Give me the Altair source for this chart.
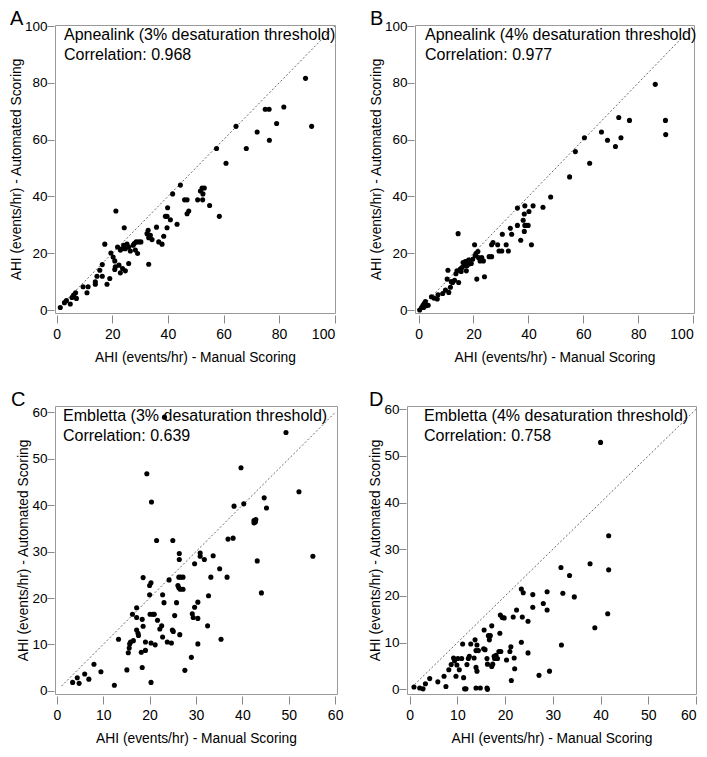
import altair as alt
import pandas as pd

# (manual AHI, automated AHI) pairs
apnea3 = [(1.3,0.9),(2.8,2.6),(3.5,3.3),(4.9,2.1),(5.5,4.4),(6.1,5.3),(6.8,6.1),(7.1,4.1),(9.5,8.2),(10.9,6.1),
          (11.3,8.2),(13.9,9.9),(13.9,9.1),(14.5,11.9),(15.5,14.0),(16.4,11.9),(16.4,16.0),(18.1,9.1),(19.1,11.1),(17.3,23.2),
          (19.5,20.1),(20.3,18.7),(20.9,17.3),(21.1,15.2),(20.9,14.3),(22.4,15.8),(22.9,13.1),(23.7,14.6),(24.7,13.8),(25.9,16.4),
          (21.3,34.9),(21.9,22.2),(22.9,21.1),(23.5,21.6),(24.1,22.8),(24.7,21.6),(24.3,29.0),(25.3,23.2),(25.9,22.2),(26.5,20.8),
          (27.5,22.8),(27.9,23.4),(28.6,24.0),(29.5,24.0),(28.3,21.1),(29.1,19.9),(30.3,24.0),(32.5,26.9),(33.1,25.5),(32.9,28.1),
          (33.7,26.3),(34.3,24.8),(33.1,16.1),(35.9,29.2),(36.7,24.0),(37.9,23.2),(38.5,26.0),(39.1,33.0),(39.7,33.0),(39.9,36.0),
          (40.9,31.8),(39.7,29.0),(41.7,40.9),(43.3,30.2),(44.5,44.0),(46.0,38.8),(46.9,38.8),(46.9,33.9),(47.5,34.9),(50.7,38.8),
          (52.5,38.8),(51.7,41.9),(52.3,43.0),(53.1,43.0),(52.6,40.9),(55.0,36.8),(58.5,33.0),(57.5,56.9),(60.9,51.7),(64.5,64.7),
          (68.2,56.9),(72.1,62.7),(75.0,70.7),(76.4,70.7),(76.5,59.8),(79.1,65.7),(81.7,71.5),(89.5,81.6),(91.7,64.7)]

apnea4 = [(0.4,0.0),(1.1,0.9),(1.6,1.7),(2.1,2.4),(2.5,3.0),(1.8,0.9),(2.8,1.5),(3.5,1.7),(4.7,4.7),(5.6,4.2),
          (6.8,3.9),(7.1,5.4),(8.8,5.8),(9.8,7.0),(10.4,10.9),(10.7,14.0),(11.0,6.2),(11.6,8.0),(11.9,10.0),(12.4,9.7),
          (13.1,10.5),(13.6,12.8),(14.0,13.8),(14.6,9.7),(14.4,26.9),(15.2,14.4),(15.5,13.6),(15.8,15.0),(16.2,16.7),(16.8,15.6),
          (17.0,17.1),(17.4,13.8),(17.6,15.6),(18.2,17.6),(18.4,16.2),(19.2,16.4),(19.7,17.9),(20.4,23.0),(20.6,19.1),(20.9,19.9),
          (21.2,10.9),(21.6,20.6),(21.8,18.5),(22.4,17.3),(23.0,18.5),(23.6,17.3),(24.0,11.7),(25.7,18.8),(26.6,18.8),(26.6,23.0),
          (27.1,23.8),(28.8,23.0),(29.3,20.8),(30.3,20.8),(30.5,26.7),(31.9,23.0),(32.7,20.8),(33.4,28.8),(33.9,26.7),(36.0,35.9),
          (36.0,29.8),(37.2,24.6),(38.1,31.6),(38.5,33.8),(38.7,36.7),(38.7,29.8),(39.3,29.8),(39.9,29.8),(40.2,34.7),(38.5,27.7),
          (41.1,23.0),(41.7,36.7),(45.3,36.2),(48.1,39.8),(55.0,46.9),(57.1,55.8),(60.4,60.7),(62.3,51.7),(66.6,62.7),(68.8,59.8),
          (71.7,57.6),(72.9,67.8),(73.7,60.7),(76.8,66.8),(86.2,79.5),(89.9,66.8),(90.0,61.8)]

embl3 = [(3.4,1.8),(4.4,2.8),(4.8,1.6),(6.0,3.6),(6.9,2.5),(8.0,5.7),(9.5,4.1),(12.4,1.2),(13.3,11.1),(15.1,4.5),
         (15.4,8.2),(15.6,9.2),(15.7,10.1),(15.9,10.5),(16.3,16.5),(16.5,10.8),(17.2,17.9),(17.2,15.8),(17.2,13.1),(17.5,12.4),
         (17.6,11.9),(18.2,8.3),(18.4,15.4),(18.4,5.0),(18.6,13.9),(18.6,24.4),(19.1,10.5),(19.1,8.7),(20.0,20.7),(20.0,22.7),
         (20.3,23.3),(20.1,16.5),(20.3,10.3),(20.3,1.8),(20.7,16.5),(21.0,16.5),(21.2,9.9),(21.5,32.4),(21.7,15.2),(22.2,13.3),
         (22.6,14.0),(22.8,11.6),(22.8,20.7),(23.1,19.0),(23.8,10.5),(24.2,23.9),(24.7,10.3),(24.9,13.1),(25.0,32.4),(25.1,12.8),
         (25.4,16.2),(25.8,19.0),(26.1,22.7),(26.3,24.5),(26.3,22.2),(26.4,29.6),(26.4,28.3),(26.5,12.1),(26.6,21.9),(26.7,24.5),
         (27.2,24.5),(27.2,21.9),(27.6,4.4),(29.0,7.2),(29.2,16.6),(29.4,15.8),(29.7,18.0),(29.7,27.4),(30.4,19.1),(30.4,15.6),
         (30.4,10.1),(30.9,29.7),(30.9,29.0),(31.8,28.3),(32.5,14.0),(32.7,20.5),(33.2,24.5),(33.7,29.1),(35.1,26.3),(35.4,11.1),
         (36.7,24.5),(36.9,32.7),(38.0,32.9),(19.4,46.8),(20.4,40.7),(23.2,59.0),(39.7,48.1),(38.2,39.8),(40.3,40.3),(42.5,36.7),
         (42.8,36.4),(42.5,36.2),(42.9,36.9),(44.7,41.6),(45.2,39.4),(43.2,28.0),(44.1,21.1),(49.4,55.7),(52.2,42.9),(55.2,29.0)]

embl4 = [(0.9,0.5),(2.1,0.3),(2.8,0.1),(3.3,1.2),(4.2,2.3),(5.9,1.6),(7.2,2.8),(7.6,0.6),(8.2,4.2),(8.7,5.3),
         (9.2,6.7),(9.4,6.1),(9.7,2.8),(9.9,5.2),(10.1,6.6),(10.4,4.2),(10.9,6.6),(11.1,9.7),(11.3,2.5),(11.5,0.1),
         (11.8,0.1),(12.0,5.3),(12.3,6.6),(12.5,7.1),(12.8,9.7),(13.5,6.7),(13.7,10.6),(13.9,8.3),(13.9,4.7),(14.1,3.9),
         (13.9,0.3),(14.1,9.5),(14.4,8.3),(14.8,0.3),(15.5,8.7),(15.8,8.5),(15.6,12.7),(16.2,0.3),(16.3,0.0),(16.2,6.6),
         (16.3,5.4),(16.5,11.5),(16.9,11.5),(16.7,10.6),(17.2,13.6),(17.2,4.9),(17.4,5.4),(17.7,7.1),(17.8,6.6),(18.1,7.3),
         (18.4,6.6),(18.7,8.1),(18.9,12.0),(19.1,8.1),(19.0,15.9),(19.4,15.4),(19.8,15.3),(20.3,6.3),(21.0,8.1),(21.2,9.1),
         (21.3,1.9),(21.7,15.5),(21.9,6.7),(22.0,4.4),(22.4,17.0),(23.4,10.1),(23.4,21.5),(23.8,20.7),(23.6,15.5),(24.8,7.8),
         (24.8,14.6),(25.8,20.3),(25.8,17.6),(27.1,3.0),(28.0,18.4),(28.8,20.9),(28.8,17.0),(29.3,3.9),(31.7,26.1),(31.8,9.5),
         (32.1,20.6),(33.5,24.4),(34.5,19.8),(40.0,52.9),(41.7,32.9),(37.8,26.9),(41.7,25.6),(41.5,16.2),(38.8,13.2)]

letters = ["A", "B", "C", "D"]
headings = ["Apnealink (3% desaturation threshold)", "Apnealink (4% desaturation threshold)",
            "Embletta (3% desaturation threshold)", "Embletta (4% desaturation threshold)"]
correlations = ["Correlation: 0.968", "Correlation: 0.977", "Correlation: 0.639", "Correlation: 0.758"]
ticks_ab = [0, 20, 40, 60, 80, 100]
ticks_cd = [0, 10, 20, 30, 40, 50, 60]
diag_ab = [1, 100]
diag_cd = [1, 60]

FONT = "Liberation Sans"


def panel(points, diag, ticks, letter, heading, corr, w, h, xdom, ydom, text_dx, letter_dx):
    df = pd.DataFrame(points, columns=["manual", "auto"])
    dd = pd.DataFrame({"manual": diag, "auto": diag})
    xs = alt.Scale(domain=xdom, nice=False, zero=False)
    ys = alt.Scale(domain=ydom, nice=False, zero=False)
    xax = alt.Axis(values=ticks, title="AHI (events/hr) - Manual Scoring", offset=2, tickSize=8,
                   labelPadding=4, titlePadding=9, labelFontSize=14)
    yax = alt.Axis(values=ticks, title="AHI (events/hr) - Automated Scoring", offset=1, tickSize=7,
                   labelPadding=0, titlePadding=1, labelFontSize=13.5)
    line = alt.Chart(dd).mark_line(strokeDash=[2, 2], color="#444", strokeWidth=0.8).encode(
        x=alt.X("manual:Q", scale=xs, axis=xax), y=alt.Y("auto:Q", scale=ys, axis=yax))
    pts = alt.Chart(df).mark_circle(size=26, color="black", opacity=1).encode(
        x=alt.X("manual:Q", scale=xs, axis=xax), y=alt.Y("auto:Q", scale=ys, axis=yax))
    t1 = alt.Chart(pd.DataFrame({"t": [heading]})).mark_text(
        align="left", baseline="middle", fontSize=16, font=FONT, color="black").encode(
        text="t:N", x=alt.value(text_dx), y=alt.value(10))
    t2 = alt.Chart(pd.DataFrame({"t": [corr]})).mark_text(
        align="left", baseline="middle", fontSize=16, font=FONT, color="black").encode(
        text="t:N", x=alt.value(text_dx), y=alt.value(30))
    lt = alt.Chart(pd.DataFrame({"t": [letter]})).mark_text(
        align="left", baseline="middle", fontSize=20, font=FONT, color="black").encode(
        text="t:N", x=alt.value(letter_dx), y=alt.value(-6))
    return alt.layer(line, pts, t1, t2, lt).properties(width=w, height=h)


pA = panel(apnea3, diag_ab, ticks_ab, letters[0], headings[0], correlations[0], 280, 288,
           [-0.6, 100.1], [-1.05, 100.4], 9, -45)
pB = panel(apnea4, diag_ab, ticks_ab, letters[1], headings[1], correlations[1], 279, 288,
           [-1.3, 100.3], [-1.05, 100.4], 10, -45)
pC = panel(embl3, diag_cd, ticks_cd, letters[2], headings[2], correlations[2], 282, 288,
           [-0.4, 60.4], [-0.7, 61.4], 8, -44)
pD = panel(embl4, diag_cd, ticks_cd, letters[3], headings[3], correlations[3], 289, 288,
           [-0.56, 60.0], [-1.0, 60.7], 17, -38)

chart = alt.concat(pA, pB, pC, pD, columns=2, align="none",
                   spacing=alt.RowColnumber(row=24, column=24)).properties(
    padding=0).configure_view(
    stroke="#999", strokeWidth=1).configure_axis(
    grid=False, domain=False, tickColor="#888", tickWidth=1, labelColor="black",
    labelFont=FONT, titleFont=FONT, titleFontSize=13.8,
    titleFontWeight="normal", titleColor="black")

chart.save("out.html", embed_options={"renderer": "svg", "actions": False})
